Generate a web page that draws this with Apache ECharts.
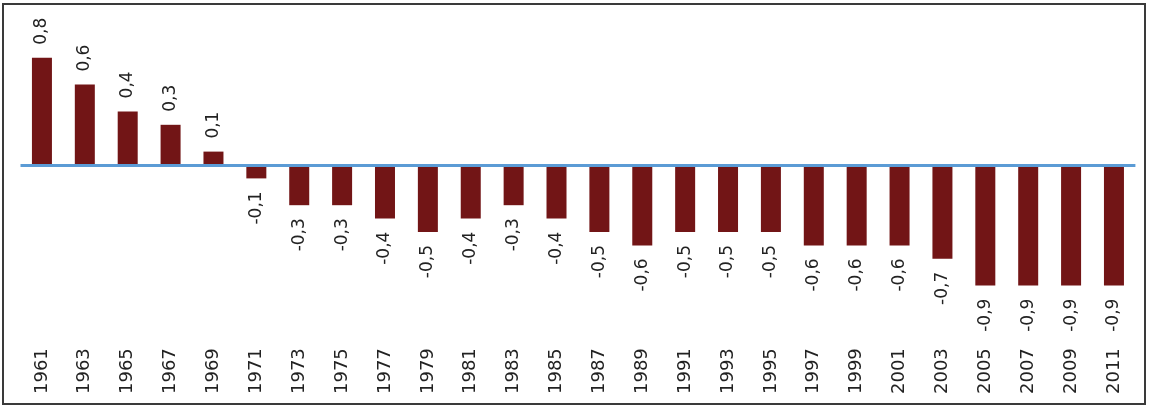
<!DOCTYPE html>
<html>
<head>
<meta charset="utf-8">
<script src="https://cdn.jsdelivr.net/npm/echarts@6/dist/echarts.min.js"></script>
<style>
    html, body { margin: 0; padding: 0; background: #fff; }
    #chart { width: 1149px; height: 408px; }
</style>
</head>
<body>
<div id="chart"></div>
<script>
    var years = ['1961', '1963', '1965', '1967', '1969', '1971', '1973', '1975', '1977', '1979',
        '1981', '1983', '1985', '1987', '1989', '1991', '1993', '1995', '1997', '1999',
        '2001', '2003', '2005', '2007', '2009', '2011'];
    var values = [0.8, 0.6, 0.4, 0.3, 0.1, -0.1, -0.3, -0.3, -0.4, -0.5,
        -0.4, -0.3, -0.4, -0.5, -0.6, -0.5, -0.5, -0.5, -0.6, -0.6,
        -0.6, -0.7, -0.9, -0.9, -0.9, -0.9];

    // labels go up from positive bars, down from negative ones
    var barData = values.map(function (v) {
        return {
            value: v,
            label: v < 0
                ? { position: 'bottom', align: 'right', distance: 13 }
                : { position: 'top', align: 'left', distance: 13 }
        };
    });

    var option = {
        animation: false,
        grid: {
            left: 20.5,
            right: 13.6,
            top: 31,
            bottom: 68.8
        },
        graphic: [{
            type: 'rect',
            shape: { x: 3, y: 4, width: 1142, height: 400 },
            style: { fill: 'none', stroke: '#3a3a3a', lineWidth: 2 },
            silent: true
        }],
        xAxis: {
            type: 'category',
            data: years,
            axisLine: { show: false, onZero: false },
            axisTick: { show: false },
            axisLabel: {
                rotate: 90,
                margin: 9,
                interval: 0,
                fontFamily: 'DejaVu Sans',
                fontSize: 18,
                color: '#222'
            }
        },
        yAxis: {
            type: 'value',
            min: -1.3,
            max: 1,
            show: false,
            splitLine: { show: false }
        },
        series: [{
            type: 'bar',
            data: barData,
            barWidth: 20,
            itemStyle: { color: '#721516' },
            label: {
                show: true,
                rotate: 90,
                verticalAlign: 'middle',
                fontFamily: 'DejaVu Sans',
                fontSize: 17,
                color: '#222',
                formatter: function (p) {
                    return String(p.value).replace('.', ',');
                }
            },
            markLine: {
                silent: true,
                symbol: 'none',
                label: { show: false },
                lineStyle: { color: '#5b9bd5', width: 3, type: 'solid' },
                data: [{ yAxis: 0 }]
            }
        }]
    };

    var mychart = echarts.init(document.getElementById('chart'));
    mychart.setOption(option);
</script>
</body>
</html>
